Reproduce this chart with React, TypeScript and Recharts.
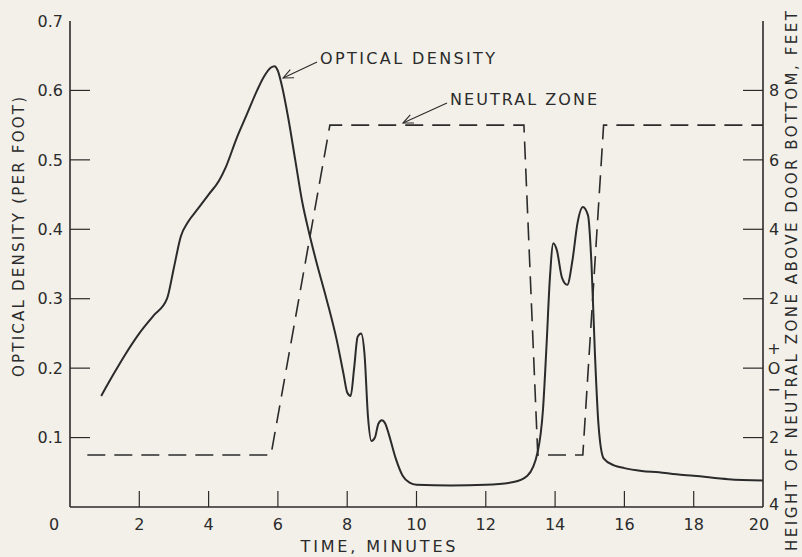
import React from "react";
import { LineChart, Line, XAxis, YAxis, ReferenceLine } from "recharts";

// optical density trace (per foot) against time (minutes)
const odMinutes = [
  0.9, 1.3, 1.6, 2.0, 2.4, 2.8, 3.0, 3.2, 3.4, 3.7, 4.0, 4.3, 4.5, 4.8, 5.1,
  5.4, 5.6, 5.8, 5.9, 6.0, 6.1, 6.3, 6.5, 6.7, 6.9, 7.1, 7.4, 7.7, 7.9, 8.0,
  8.1, 8.2, 8.3, 8.4, 8.5, 8.6, 8.7, 8.8, 8.9, 9.0, 9.1, 9.2, 9.4, 9.6, 9.8,
  10.0, 11.0, 12.0, 12.8, 13.2, 13.5, 13.65, 13.75, 13.85, 13.95, 14.05,
  14.2, 14.35, 14.5, 14.65, 14.8, 14.95, 15.05, 15.15, 15.25, 15.4, 15.7,
  16.0, 16.5, 17.0, 17.5, 18.0, 19.0, 20.0,
];
const odPerFoot = [
  0.16, 0.195, 0.22, 0.25, 0.275, 0.3, 0.345, 0.39, 0.41, 0.43, 0.45, 0.47,
  0.49, 0.53, 0.565, 0.6, 0.62, 0.633, 0.635, 0.628, 0.61, 0.56, 0.5, 0.44,
  0.395, 0.355, 0.3, 0.24, 0.19, 0.165, 0.16, 0.2, 0.245, 0.25, 0.22, 0.13,
  0.095, 0.1, 0.12, 0.125, 0.12, 0.105, 0.07, 0.045, 0.035, 0.032, 0.031,
  0.032, 0.036, 0.045, 0.08, 0.14, 0.23, 0.33, 0.38, 0.37, 0.33, 0.32, 0.355,
  0.41, 0.432, 0.42, 0.35, 0.22, 0.12, 0.07, 0.06, 0.056, 0.052, 0.05, 0.047,
  0.045, 0.04, 0.038,
];

// neutral zone height above door bottom (feet)
const zoneMinutes = [0.5, 5.8, 7.5, 13.1, 13.5, 14.8, 15.4, 20];
const zoneFeet = [-2.5, -2.5, 7, 7, -2.5, -2.5, 7, 7];

const timeTicks = [0, 2, 4, 6, 8, 10, 12, 14, 16, 18, 20];
const topTicks = [2, 4, 6, 8, 10, 12, 14, 16, 18];
const densityTicks = [0, 0.1, 0.2, 0.3, 0.4, 0.5, 0.6, 0.7];
const feetTicks = [-4, -2, 0, 2, 4, 6, 8];

const odData = odMinutes.map((t, i) => ({ t, od: odPerFoot[i] }));
const zoneData = zoneMinutes.map((t, i) => ({ t, ft: zoneFeet[i] }));

const INK = "#2b2b2b";
const PAPER = "#f2f0e9";
const FONT = "'DejaVu Sans', sans-serif";

const BottomTick = (p: any) => {
  const { x, y, payload } = p;
  const v = payload.value;
  return (
    <g>
      {v > 0 && v < 20 && (
        <line x1={x} x2={x} y1={y} y2={y - 16} stroke={INK} strokeWidth={1.2} />
      )}
      <text
        x={v === 0 ? x - 16 : v === 20 ? x - 4 : x}
        y={y + 23}
        textAnchor="middle"
        fontSize={16}
        fontFamily={FONT}
        fill={INK}
      >
        {v}
      </text>
    </g>
  );
};

const TopTick = (p: any) => {
  const { x, y } = p;
  return <line x1={x} x2={x} y1={y} y2={y + 18} stroke={INK} strokeWidth={1.2} />;
};

const LeftTick = (p: any) => {
  const { x, y, payload } = p;
  const v = payload.value;
  return (
    <g>
      {v > 0 && v < 0.7 && (
        <line x1={x} x2={x + 20} y1={y} y2={y} stroke={INK} strokeWidth={1.2} />
      )}
      {v > 0 && (
        <text
          x={x - 7}
          y={y}
          dy="0.36em"
          textAnchor="end"
          fontSize={16}
          fontFamily={FONT}
          fill={INK}
        >
          {v.toFixed(1)}
        </text>
      )}
    </g>
  );
};

const RightTick = (p: any) => {
  const { x, y, payload } = p;
  const v = payload.value;
  const txt = { textAnchor: "middle" as const, fontSize: 16, fontFamily: FONT, fill: INK };
  return (
    <g>
      {v > -4 && (
        <line x1={x - 20} x2={x} y1={y} y2={y} stroke={INK} strokeWidth={1.2} />
      )}
      {v === 0 ? (
        <>
          <text x={x + 11} y={y - 20} dy="0.36em" {...txt}>+</text>
          <text x={x + 11} y={y} dy="0.36em" {...txt}>O</text>
          <text x={x + 11} y={y + 21} dy="0.36em" {...txt}>−</text>
        </>
      ) : (
        <text x={x + 11} y={v === -4 ? y - 3 : y} dy="0.36em" {...txt}>
          {Math.abs(v)}
        </text>
      )}
    </g>
  );
};

const arrow = (label: string, width: number) => (p: any) => {
  const { x1, y1, x2, y2 } = p;
  const a = Math.atan2(y2 - y1, x2 - x1);
  const L = 11;
  const s = 0.42;
  const h1x = x2 - L * Math.cos(a - s);
  const h1y = y2 - L * Math.sin(a - s);
  const h2x = x2 - L * Math.cos(a + s);
  const h2y = y2 - L * Math.sin(a + s);
  return (
    <g>
      <line x1={x1} y1={y1} x2={x2} y2={y2} stroke={INK} strokeWidth={1.1} />
      <path
        d={`M${h1x},${h1y}L${x2},${y2}L${h2x},${h2y}`}
        fill="none"
        stroke={INK}
        strokeWidth={1.1}
      />
      <text
        x={x1 + 3}
        y={y1 - 4}
        dy="0.36em"
        fontSize={16}
        fontFamily={FONT}
        fill={INK}
        textLength={width}
        lengthAdjust="spacing"
      >
        {label}
      </text>
    </g>
  );
};

export default function App() {
  return (
    <div
      style={{
        position: "absolute",
        left: 0,
        top: 0,
        width: 802,
        height: 557,
        background: PAPER,
      }}
    >
      <LineChart
        width={802}
        height={557}
        margin={{ top: 21, right: 0, bottom: 20, left: 30 }}
      >
        <XAxis
          dataKey="t"
          type="number"
          domain={[0, 20]}
          ticks={timeTicks}
          allowDataOverflow
          height={30}
          tickSize={0}
          tickMargin={0}
          tickLine={false}
          axisLine={{ stroke: INK, strokeWidth: 1.6 }}
          tick={BottomTick}
          interval={0}
        />
        <XAxis
          xAxisId="top"
          orientation="top"
          type="number"
          domain={[0, 20]}
          ticks={topTicks}
          allowDataOverflow
          height={0}
          tickSize={0}
          tickMargin={0}
          tickLine={false}
          axisLine={{ stroke: INK, strokeWidth: 1.6 }}
          tick={TopTick}
          interval={0}
        />
        <YAxis
          yAxisId="od"
          type="number"
          domain={[0, 0.7]}
          ticks={densityTicks}
          allowDataOverflow
          width={40}
          tickSize={0}
          tickMargin={0}
          tickLine={false}
          axisLine={{ stroke: INK, strokeWidth: 1.6 }}
          tick={LeftTick}
          interval={0}
        />
        <YAxis
          yAxisId="ft"
          orientation="right"
          type="number"
          domain={[-4, 10]}
          ticks={feetTicks}
          allowDataOverflow
          width={39}
          tickSize={0}
          tickMargin={0}
          tickLine={false}
          axisLine={{ stroke: INK, strokeWidth: 1.6 }}
          tick={RightTick}
          interval={0}
        />
        <Line
          data={zoneData}
          yAxisId="ft"
          dataKey="ft"
          type="linear"
          stroke={INK}
          strokeWidth={1.6}
          strokeDasharray="18 9"
          dot={false}
          isAnimationActive={false}
        />
        <Line
          data={odData}
          yAxisId="od"
          dataKey="od"
          type="monotone"
          stroke={INK}
          strokeWidth={2}
          dot={false}
          isAnimationActive={false}
        />
        <ReferenceLine
          yAxisId="od"
          segment={[
            { x: 7.13, y: 0.641 },
            { x: 6.15, y: 0.618 },
          ]}
          ifOverflow="visible"
          shape={arrow("OPTICAL DENSITY", 175)}
        />
        <ReferenceLine
          yAxisId="od"
          segment={[
            { x: 10.88, y: 0.582 },
            { x: 9.61, y: 0.553 },
          ]}
          ifOverflow="visible"
          shape={arrow("NEUTRAL ZONE", 147)}
        />
      </LineChart>
      <svg
        width={802}
        height={557}
        style={{ position: "absolute", left: 0, top: 0, pointerEvents: "none" }}
      >
        <text
          transform="translate(24,237) rotate(-90)"
          textAnchor="middle"
          fontSize={15}
          fontFamily={FONT}
          fill={INK}
          textLength={280}
          lengthAdjust="spacing"
        >
          OPTICAL DENSITY (PER FOOT)
        </text>
        <text
          transform="translate(797,281) rotate(-90)"
          textAnchor="middle"
          fontSize={15}
          fontFamily={FONT}
          fill={INK}
          textLength={540}
          lengthAdjust="spacing"
        >
          HEIGHT OF NEUTRAL ZONE ABOVE DOOR BOTTOM, FEET
        </text>
        <text
          x={378}
          y={552}
          textAnchor="middle"
          fontSize={16}
          fontFamily={FONT}
          fill={INK}
          textLength={155}
          lengthAdjust="spacing"
        >
          TIME, MINUTES
        </text>
      </svg>
    </div>
  );
}
